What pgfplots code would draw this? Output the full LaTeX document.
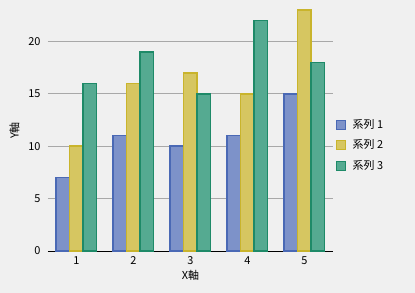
\documentclass[border=0pt]{standalone}
\usepackage{pgfplots}
\pgfplotsset{compat=1.18}
\usepackage{fontspec}
\setmainfont{Noto Sans CJK JP}
\definecolor{bg}{HTML}{F0F0F0}
\definecolor{fA}{HTML}{7D92C9}
\definecolor{dA}{HTML}{4A69B5}
\definecolor{fB}{HTML}{D6C661}
\definecolor{dB}{HTML}{C9B42C}
\definecolor{fC}{HTML}{55AA91}
\definecolor{dC}{HTML}{1E8A68}
\definecolor{gridc}{HTML}{A8A8A8}
\begin{document}
\begin{tikzpicture}
\fill[bg] (-48bp,-42bp) rectangle (367bp,251bp);
\useasboundingbox (-48bp,-42bp) rectangle (367bp,251bp);
\begin{axis}[
  at={(0,0)}, anchor=south west,
  scale only axis, width=285bp, height=241bp,
  xmin=0.5, xmax=5.5, ymin=0, ymax=23,
  ybar=0pt, bar width=13.5bp,
  xtick={1,2,3,4,5}, ytick={0,5,10,15,20},
  axis lines*=left,
  y axis line style={draw=none},
  x axis line style={line width=0.8bp, black, -},
  ymajorgrids, grid style={gridc, line width=0.8bp},
  major tick length=0pt,
  tick style={draw=none},
  font=\fontsize{11}{13}\selectfont,
  /pgf/number format/assume math mode=true,
  yticklabel style={anchor=east, xshift=-4bp},
  xticklabel style={yshift=-2bp},
  ylabel={Y軸}, xlabel={X軸},
  ylabel style={at={(-0.088,0.5)}, anchor=south},
  xlabel style={at={(0.5,-0.065)}, anchor=north},
  clip=false,
  legend style={draw=none, fill=none, at={(0.998,0.44)}, anchor=west,
    font=\fontsize{11}{13}\selectfont, row sep=6bp,
    legend cell align=left},
  legend image code/.code={\draw[#1, line width=0.6bp] (0bp,-4.5bp) rectangle (9bp,4.5bp); \path (14bp,0bp);},
]
\addplot[fill=fA, draw=dA, line width=1.5bp] coordinates {(1,7) (2,11) (3,10) (4,11) (5,15)};
\addplot[fill=fB, draw=dB, line width=1.5bp] coordinates {(1,10) (2,16) (3,17) (4,15) (5,23)};
\addplot[fill=fC, draw=dC, line width=1.5bp] coordinates {(1,16) (2,19) (3,15) (4,22) (5,18)};
\legend{系列 1, 系列 2, 系列 3}
\end{axis}
\end{tikzpicture}
\end{document}
